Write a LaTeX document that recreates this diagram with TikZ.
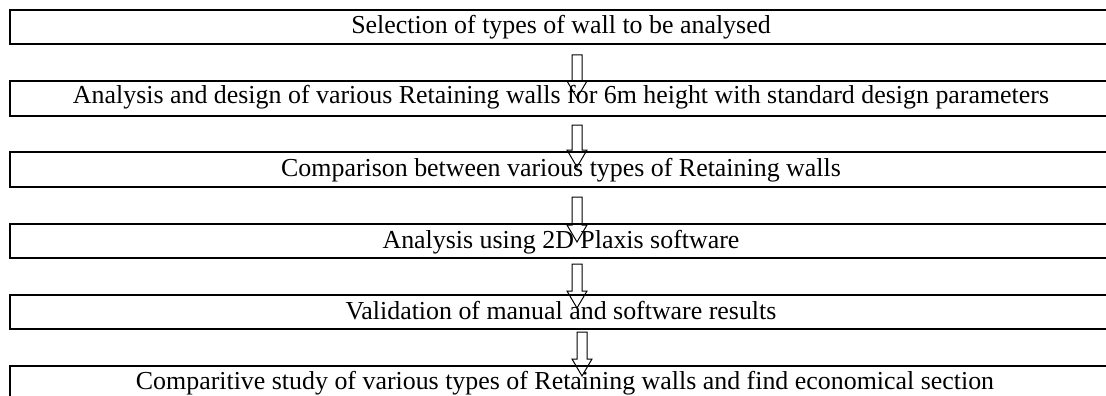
\documentclass[tikz,border=0pt]{standalone}
\usepackage{fontspec}
\setmainfont{Liberation Serif}
\usetikzlibrary{calc}

\tikzset{
  stagebox/.style={line width=1.5pt},
  stagetext/.style={anchor=base,inner sep=0pt,font=\fontsize{25.9}{30}\selectfont},
  hollowarrow/.style={line width=1pt}
}
\newcommand{\blockarrow}[2]{%
  \draw[hollowarrow] ($(#1)+(-5,0)$) -- ($(#1)+(5,0)$) -- ($(#2)+(5,-17)$) -- ($(#2)+(10,-17)$)
    -- (#2) -- ($(#2)+(-10,-17)$) -- ($(#2)+(-5,-17)$) -- cycle;}

\begin{document}
\begin{tikzpicture}[x=1pt,y=-1pt]
\useasboundingbox (0,0) rectangle (1106,396);

\draw[stagebox] (10,10) rectangle (1120,44);
\draw[stagebox] (10,81) rectangle (1120,116);
\draw[stagebox] (10,152) rectangle (1120,187);
\draw[stagebox] (10,224) rectangle (1120,258);
\draw[stagebox] (10,295) rectangle (1120,329);
\draw[stagebox] (10,366) rectangle (1120,410);

\node[stagetext] (s1) at (561,34) {Selection of types of wall to be analysed};
\node[stagetext] (s2) at (561,103) {Analysis and design of various Retaining walls for 6m height with standard design parameters};
\node[stagetext] (s3) at (561,176) {Comparison between various types of Retaining walls};
\node[stagetext] (s4) at (561,248) {Analysis using 2D Plaxis software};
\node[stagetext] (s5) at (561,319) {Validation of manual and software results};
\node[stagetext] (s6) at (565,389) {Comparitive study of various types of Retaining walls and find economical section};

\coordinate (a1) at (577,55);  \coordinate (h1) at (577,98);
\coordinate (a2) at (577,125); \coordinate (h2) at (577,167);
\coordinate (a3) at (577,197); \coordinate (h3) at (577,242);
\coordinate (a4) at (577,264); \coordinate (h4) at (577,308);
\coordinate (a5) at (582,332); \coordinate (h5) at (582,376);

\blockarrow{a1}{h1}
\blockarrow{a2}{h2}
\blockarrow{a3}{h3}
\blockarrow{a4}{h4}
\blockarrow{a5}{h5}
\end{tikzpicture}
\end{document}
